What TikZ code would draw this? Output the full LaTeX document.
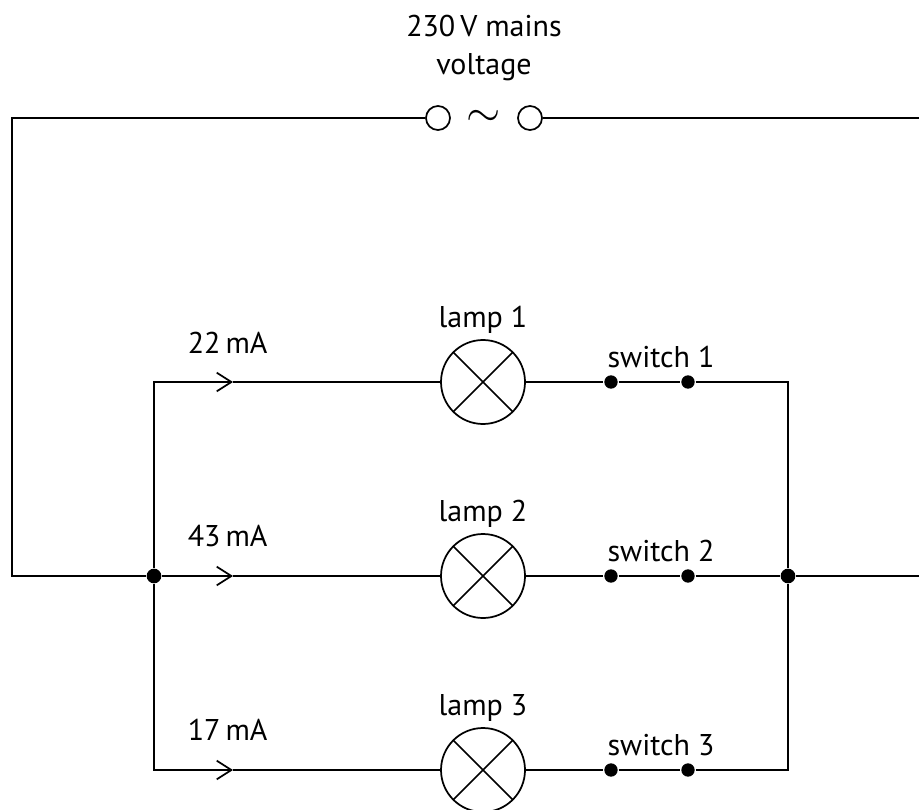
\documentclass[tikz,border=0pt]{standalone}
\usepackage{fontspec}
\setmainfont{PT Sans}
\usetikzlibrary{arrows.meta}
\tikzset{every picture/.style={line width=1.3pt}}
\tikzset{
  lampbox/.style={circle, draw, minimum size=63pt, inner sep=0pt,
    path picture={\draw (path picture bounding box.north west) -- (path picture bounding box.south east)
      (path picture bounding box.south west) -- (path picture bounding box.north east);}},
  contact/.style={circle, fill, minimum size=10pt, inner sep=0pt},
  junction/.style={circle, fill, minimum size=11pt, inner sep=0pt},
  terminal/.style={circle, draw, minimum size=18pt, inner sep=0pt},
  flow/.style={-{Straight Barb[length=11pt,width=14pt]}},
  lbl/.style={font=\fontsize{22.5}{28.5}\selectfont, inner sep=0pt}
}

\begin{document}
\begin{tikzpicture}[x=0.75pt,y=0.75pt,yscale=-1,xscale=1]
\useasboundingbox (0,0) rectangle (919,809);

%Supply
\node[terminal] (t1) at (438,118) {};
\node[terminal] (t2) at (530,118) {};
\node[scale=3.3, inner sep=0pt] (ac) at (484,118) {$\sim$};
\coordinate (tl) at (12,118);
\coordinate (tr) at (919,118);
\coordinate (ml) at (12,576);
\coordinate (mr) at (919,576);

%Junctions and corners
\node[junction] (jl) at (154,576) {};
\node[junction] (jr) at (788,576) {};
\coordinate (c1l) at (154,382);
\coordinate (c1r) at (788,382);
\coordinate (c3l) at (154,770);
\coordinate (c3r) at (788,770);

%Arrow points
\coordinate (a1) at (233,382);
\coordinate (a2) at (233,576);
\coordinate (a3) at (233,770);

%Lamps
\node[lampbox] (lamp1) at (483,382) {};
\node[lampbox] (lamp2) at (483,576) {};
\node[lampbox] (lamp3) at (483,770) {};

%Switch contacts
\node[contact] (s1a) at (611,382) {};
\node[contact] (s1b) at (688,382) {};
\node[contact] (s2a) at (611,576) {};
\node[contact] (s2b) at (688,576) {};
\node[contact] (s3a) at (611,770) {};
\node[contact] (s3b) at (688,770) {};

%Outer loop
\draw (jl) -- (ml) -- (tl) -- (t1);
\draw (t2) -- (tr);
\draw (jr) -- (mr);

%Left rail
\draw (c1l) -- (jl) -- (c3l);

%Branch 1
\draw[flow] (jl) -- (c1l) -- (a1);
\draw (a1) -- (lamp1);
\draw (lamp1) -- (s1a) -- (s1b) -- (c1r) -- (jr);
%Branch 2
\draw[flow] (jl) -- (a2);
\draw (a2) -- (lamp2);
\draw (lamp2) -- (s2a) -- (s2b) -- (jr);
%Branch 3
\draw[flow] (jl) -- (c3l) -- (a3);
\draw (a3) -- (lamp3);
\draw (lamp3) -- (s3a) -- (s3b) -- (c3r) -- (jr);

% Text Node
\node[lbl, align=center, anchor=base] (mains) at (484,75) {230\,V mains\\voltage};
% Text Node
\node[lbl, anchor=base west] (i1) at (187,353) {22\,mA};
\node[lbl, anchor=base west] (i2) at (187,546) {43\,mA};
\node[lbl, anchor=base west] (i3) at (187,740) {17\,mA};
% Text Node
\node[lbl, anchor=base] (l1) at (483,327) {lamp 1};
\node[lbl, anchor=base] (l2) at (483,521) {lamp 2};
\node[lbl, anchor=base] (l3) at (483,715) {lamp 3};
% Text Node
\node[lbl, anchor=base] (w1) at (661,367) {switch 1};
\node[lbl, anchor=base] (w2) at (661,561) {switch 2};
\node[lbl, anchor=base] (w3) at (661,755) {switch 3};

\end{tikzpicture}
\end{document}
